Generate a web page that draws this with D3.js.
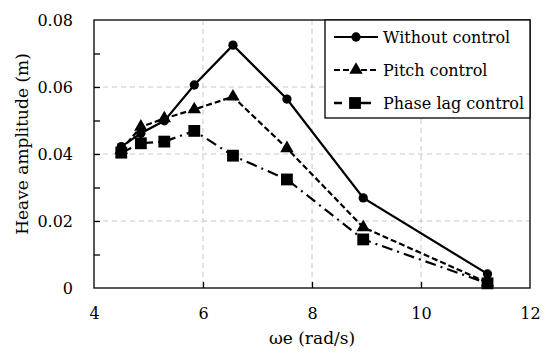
<!DOCTYPE html>
<html><head><meta charset="utf-8">
<script src="https://cdn.jsdelivr.net/npm/d3@7"></script>
<style>body{margin:0;background:#fff}svg{display:block}</style>
</head><body>
<svg id="c" width="550" height="355"></svg>
<script>
const omega = [4.50, 4.86, 5.29, 5.84, 6.55, 7.54, 8.94, 11.22];
const withoutControl = [0.0422, 0.0462, 0.0499, 0.0606, 0.0725, 0.0564, 0.0269, 0.0042];
const pitchControl = [0.0412, 0.0481, 0.0506, 0.0533, 0.0571, 0.0417, 0.0181, 0.0016];
const phaseLagControl = [0.0404, 0.0432, 0.0437, 0.0469, 0.0395, 0.0324, 0.0145, 0.0014];
const seriesNames = ["Without control", "Pitch control", "Phase lag control"];
const xTicks = [4, 6, 8, 10, 12];
const yTicks = [0, 0.02, 0.04, 0.06, 0.08];
const yMinor = [0.01, 0.02, 0.03, 0.04, 0.05, 0.06, 0.07];

const FONT = "'DejaVu Serif', serif";
const svg = d3.select("#c");
const L = 94, R = 530, T = 20, B = 288;
const x = d3.scaleLinear().domain([4, 12]).range([L, R]);
const y = d3.scaleLinear().domain([0, 0.08]).range([B, T]);

// grid
const grid = svg.append("g").attr("stroke", "#c8c8c8").attr("stroke-width", 1).attr("stroke-dasharray", "5,4");
[6, 8, 10].forEach(v => grid.append("line").attr("x1", x(v)).attr("x2", x(v)).attr("y1", T).attr("y2", B));
[0.02, 0.04, 0.06].forEach(v => grid.append("line").attr("x1", L).attr("x2", R).attr("y1", y(v)).attr("y2", y(v)));

// frame
svg.append("rect").attr("x", L).attr("y", T).attr("width", R - L).attr("height", B - T)
  .attr("fill", "none").attr("stroke", "#000").attr("stroke-width", 1.3);

// axes
const xAxis = d3.axisBottom(x).tickValues(xTicks).tickSize(-6).tickPadding(20).tickFormat(d3.format("d"));
const gx = svg.append("g").attr("class", "ax").attr("transform", `translate(0,${B})`).call(xAxis);
gx.select(".domain").remove();
gx.selectAll(".tick line").attr("stroke", "#000").attr("stroke-width", 1.3);
gx.selectAll(".tick").filter(d => d === 4 || d === 12).select("line").remove();

const yAxis = d3.axisLeft(y).tickValues(yTicks).tickSize(0).tickPadding(21).tickFormat(d => d === 0 ? "0" : d3.format(".2f")(d));
const gy = svg.append("g").attr("class", "ax").attr("transform", `translate(${L},0)`).call(yAxis);
gy.select(".domain").remove();
const minor = d3.axisLeft(y).tickValues(yMinor).tickSize(-6).tickFormat("");
const gm = svg.append("g").attr("transform", `translate(${L},0)`).call(minor);
gm.select(".domain").remove();
gm.selectAll(".tick line").attr("stroke", "#000").attr("stroke-width", 1.3);

svg.append("text").attr("class", "ttl").attr("x", (L + R) / 2).attr("y", 344).attr("text-anchor", "middle").text("ωe (rad/s)");
svg.append("text").attr("class", "ttl").attr("transform", `translate(28,${(T + B) / 2 - 10}) rotate(-90)`).attr("text-anchor", "middle")
  .text("Heave amplitude (m)");

// series
const series = [
  {vals: withoutControl, dash: null, marker: "circle"},
  {vals: pitchControl, dash: "6,3", marker: "triangle"},
  {vals: phaseLagControl, dash: "11,5,2,5", marker: "square"}
];
const line = d3.line().x((d, i) => x(omega[i])).y(d => y(d));
const sym = {
  circle: d3.symbol().type(d3.symbolCircle).size(68),
  triangle: d3.symbol().type(d3.symbolTriangle).size(78),
  square: d3.symbol().type(d3.symbolSquare).size(140)
};
series.forEach(s => {
  svg.append("path").datum(s.vals).attr("d", line).attr("fill", "none").attr("stroke", "#000")
    .attr("stroke-width", 2.2).attr("stroke-dasharray", s.dash);
});
series.forEach(s => {
  svg.append("g").selectAll("path").data(s.vals).join("path")
    .attr("transform", (d, i) => `translate(${x(omega[i])},${y(d)})`)
    .attr("d", sym[s.marker]()).attr("fill", "#000");
});

// legend
const lg = svg.append("g");
lg.append("rect").attr("x", 325).attr("y", T).attr("width", R - 325).attr("height", 98)
  .attr("fill", "#fff").attr("stroke", "#000").attr("stroke-width", 1.3);
const rows = [37, 70, 103];
series.forEach((s, i) => {
  const yy = rows[i];
  if (i === 2) {
    lg.append("line").attr("x1", 334).attr("x2", 342).attr("y1", yy).attr("y2", yy).attr("stroke", "#000").attr("stroke-width", 2.5);
    lg.append("line").attr("x1", 360).attr("x2", 371).attr("y1", yy).attr("y2", yy).attr("stroke", "#000").attr("stroke-width", 2.5);
    lg.append("path").attr("transform", `translate(355,${yy})`).attr("d", sym[s.marker]()).attr("fill", "#000");
  } else {
    lg.append("line").attr("x1", 334).attr("x2", 378).attr("y1", yy).attr("y2", yy)
      .attr("stroke", "#000").attr("stroke-width", 2.2).attr("stroke-dasharray", s.dash);
    lg.append("path").attr("transform", `translate(356,${yy})`).attr("d", sym[s.marker]()).attr("fill", "#000");
  }
  lg.append("text").attr("class", "lgt").attr("x", 383).attr("y", yy).attr("dy", "0.35em").text(seriesNames[i]);
});

svg.selectAll("text").attr("font-family", null).attr("font-size", null)
  .style("font-family", FONT).style("font-size", "16px").style("fill", "#000");
svg.selectAll("text.ttl").style("font-size", "17px");
</script>
</body></html>
